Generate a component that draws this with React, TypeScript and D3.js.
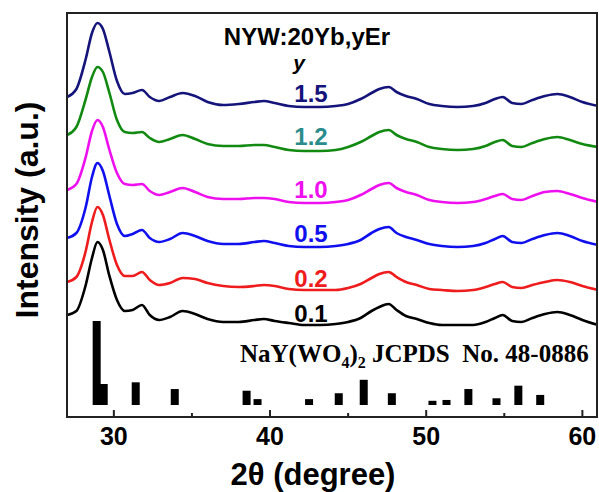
import React from 'react';
import * as d3 from 'd3';

// 2-theta sampling points (degree)
const twoTheta = [27.0, 27.6, 28.2, 28.6, 28.95, 29.3, 29.7, 30.2, 30.7, 31.2, 31.8, 32.3, 32.9, 33.6, 34.4, 35.2, 36.0, 37.0, 38.0, 39.0, 39.6, 40.3, 41.2, 42.2, 43.2, 44.2, 45.0, 45.8, 46.5, 47.0, 47.6, 48.1, 48.7, 49.4, 50.2, 51.0, 52.0, 53.0, 53.8, 54.4, 54.9, 55.5, 56.1, 56.8, 57.6, 58.4, 59.2, 60.0, 61.0];

// intensities (a.u., already stacked)
const y01 = [102, 106, 132, 159, 175, 167, 142, 117, 106, 107, 112, 102, 97, 100, 106, 103, 98, 95, 95, 97, 98, 96, 94, 92, 92, 93, 95, 99, 106, 110, 113, 107, 101, 98, 94, 92, 92, 92, 95, 99, 102, 96, 95, 99, 103, 105, 102, 97, 92];
const y02 = [135, 140, 166, 195, 210, 202, 178, 152, 141, 141, 145, 137, 132, 134, 139, 138, 134, 131, 130, 131, 132, 131, 128, 127, 127, 127, 129, 133, 139, 143, 145, 140, 135, 132, 128, 127, 126, 127, 130, 133, 135, 130, 129, 132, 135, 137, 135, 131, 127];
const y05 = [179, 184, 210, 240, 254, 246, 222, 193, 181, 183, 187, 179, 175, 178, 184, 181, 176, 173, 173, 175, 176, 174, 171, 170, 170, 171, 173, 177, 184, 188, 190, 184, 180, 177, 173, 171, 170, 171, 174, 178, 181, 175, 174, 178, 182, 184, 181, 176, 172];
const y10 = [227, 233, 260, 286, 297, 290, 268, 244, 233, 232, 233, 226, 222, 225, 229, 225, 220, 218, 218, 219, 219, 218, 215, 214, 214, 215, 217, 222, 228, 232, 234, 229, 225, 222, 217, 215, 214, 215, 218, 221, 223, 218, 217, 221, 225, 226, 223, 219, 215];
const y12 = [282, 290, 318, 340, 350, 345, 325, 297, 285, 284, 285, 279, 275, 278, 282, 278, 273, 271, 271, 272, 272, 270, 267, 266, 266, 267, 270, 275, 281, 285, 287, 282, 278, 275, 270, 268, 267, 268, 271, 275, 277, 271, 270, 274, 278, 280, 277, 273, 270];
const y15 = [320, 328, 358, 384, 394, 388, 366, 336, 323, 324, 327, 320, 316, 320, 324, 321, 315, 312, 313, 315, 316, 314, 311, 310, 310, 311, 313, 318, 324, 328, 330, 325, 321, 318, 313, 311, 310, 311, 314, 318, 320, 314, 313, 317, 321, 323, 320, 315, 311];

const seriesNames = ['0.1', '0.2', '0.5', '1.0', '1.2', '1.5'];
const seriesValues = [y01, y02, y05, y10, y12, y15];
const lineColors = ['#000000', '#ee1c1c', '#1010ee', '#ee10ee', '#128a12', '#14147a'];
const labelColors = ['#000000', '#ee1c1c', '#1010ee', '#ee10ee', '#2b8c8c', '#14147a'];
const labelLevels = [95, 130, 175, 219, 272, 315];

// JCPDS 48-0886 reference lines
const refPos = [28.9, 29.35, 31.4, 33.9, 38.5, 39.2, 42.5, 44.4, 46.0, 47.8, 50.4, 51.3, 52.7, 54.5, 55.9, 57.3];
const refInt = [100, 25, 27, 19, 17, 7, 7, 14, 30, 14, 5, 6, 19, 8, 23, 12];

const xTicks = [30, 40, 50, 60];
const xMinor = [35, 45, 55];

const W = 599;
const H = 492;
const left = 67, right = 597, top = 13, bottom = 417;

export default function App() {
  const x = d3.scaleLinear().domain([27, 61]).range([left, right + 1]);
  const y = d3.scaleLinear().domain([0, 404]).range([bottom, top]);
  const yRef = d3.scaleLinear().domain([0, 100]).range([405, 321]);

  const line = d3.line<number>()
    .x((_, i) => x(twoTheta[i]))
    .y(d => y(d))
    .curve(d3.curveMonotoneX);

  const sans = '"Liberation Sans", Arial, sans-serif';
  const serif = '"Liberation Serif", "Times New Roman", serif';

  return (
    <svg width={W} height={H} style={{ position: 'absolute', left: 0, top: 0, background: '#fff' }}>
      <defs>
        <clipPath id="plot">
          <rect x={left} y={top} width={right - left} height={bottom - top} />
        </clipPath>
      </defs>

      <g clipPath="url(#plot)">
        {seriesValues.map((vals, i) => (
          <path key={seriesNames[i]} d={line(vals) || ''} fill="none" stroke={lineColors[i]} strokeWidth={2.6} strokeLinejoin="round" />
        ))}
        {refPos.map((p, i) => (
          <rect key={p} x={x(p) - 4} y={yRef(refInt[i])} width={8} height={yRef(0) - yRef(refInt[i])} fill="#000" />
        ))}
      </g>

      {/* series labels */}
      {seriesNames.map((n, i) => (
        <text key={n} x={311} y={y(labelLevels[i])} textAnchor="middle" fontFamily={sans} fontWeight="bold" fontSize={24} fill={labelColors[i]}>{n}</text>
      ))}

      <text x={307} y={45} textAnchor="middle" fontFamily={sans} fontWeight="bold" fontSize={24}>NYW:20Yb,yEr</text>
      <text x={299} y={70} textAnchor="middle" fontFamily={sans} fontWeight="bold" fontStyle="italic" fontSize={21}>y</text>

      <text x={240} y={362} fontFamily={serif} fontWeight="bold" fontSize={25} style={{ whiteSpace: 'pre' }}>
        NaY(WO<tspan fontSize={16} dy={6}>4</tspan><tspan dy={-6}>)</tspan><tspan fontSize={16} dy={6}>2</tspan><tspan dy={-6}> JCPDS  No. 48-0886</tspan>
      </text>

      {/* frame */}
      <rect x={left} y={top} width={right - left} height={bottom - top} fill="none" stroke="#222" strokeWidth={2} />

      {/* ticks */}
      {xTicks.map(t => (
        <g key={t}>
          <line x1={x(t)} x2={x(t)} y1={bottom} y2={bottom - 7} stroke="#222" strokeWidth={2} />
          <text x={x(t)} y={445} textAnchor="middle" fontFamily={sans} fontWeight="bold" fontSize={25}>{t}</text>
        </g>
      ))}
      {xMinor.map(t => (
        <line key={t} x1={x(t)} x2={x(t)} y1={bottom} y2={bottom - 4} stroke="#222" strokeWidth={2} />
      ))}

      <text x={313} y={485} textAnchor="middle" fontFamily={sans} fontWeight="bold" fontSize={31}>2θ (degree)</text>
      <text transform="translate(38,210) rotate(-90)" textAnchor="middle" fontFamily={sans} fontWeight="bold" fontSize={32}>Intensity (a.u.)</text>
    </svg>
  );
}
